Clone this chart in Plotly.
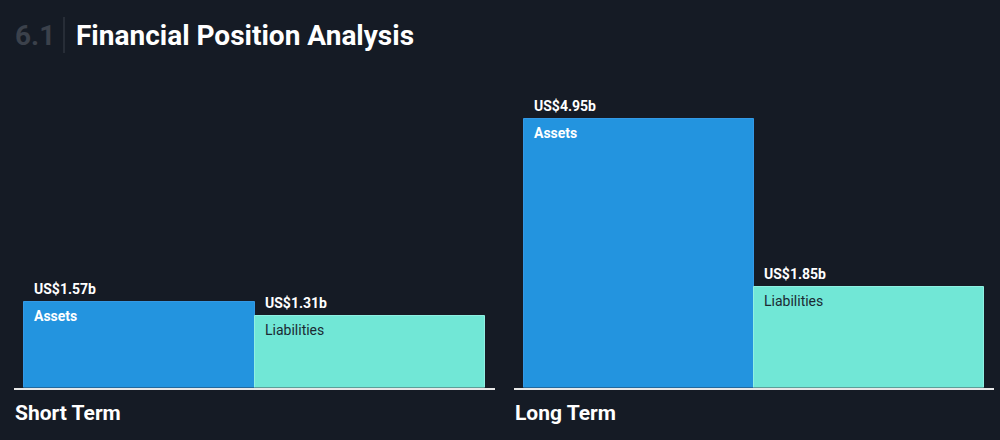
import plotly.graph_objects as go
from plotly.subplots import make_subplots

# data
categories = ["Assets", "Liabilities"]
short_term = [1.57, 1.31]
long_term = [4.95, 1.85]
short_labels = ["US$1.57b", "US$1.31b"]
long_labels = ["US$4.95b", "US$1.85b"]
panel_titles = ["Short Term", "Long Term"]

BG = "#151b25"
BAR_COLORS = ["#2394df", "#71e7d6"]
EDGE_COLORS = ["#3399e6", "#8ff0e2"]
INNER_TEXT = ["#ffffff", "#1b2a33"]
FONT = "Roboto"

fig = make_subplots(rows=1, cols=2)

panels = [(short_term, short_labels), (long_term, long_labels)]
for col, (vals, labels) in enumerate(panels, start=1):
    _ = fig.add_trace(
        go.Bar(
            x=categories,
            y=vals,
            marker=dict(color=BAR_COLORS, line=dict(color=EDGE_COLORS, width=1)),
            hoverinfo="skip",
            showlegend=False,
        ),
        row=1,
        col=col,
    )
    xref = "x" if col == 1 else "x2"
    yref = "y" if col == 1 else "y2"
    for i, (v, lab) in enumerate(zip(vals, labels)):
        # value above the bar
        fig.add_annotation(
            x=i, y=v, xref=xref, yref=yref, text="<b>" + lab + "</b>",
            showarrow=False, xanchor="left", yanchor="bottom",
            xshift=-107, yshift=3,
            font=dict(family=FONT, size=14, color="#ffffff"),
        )
        # category name inside the bar
        name = "<b>" + categories[i] + "</b>" if i == 0 else categories[i]
        fig.add_annotation(
            x=i, y=v, xref=xref, yref=yref, text=name,
            showarrow=False, xanchor="left", yanchor="top",
            xshift=-107, yshift=-4,
            font=dict(family=FONT, size=14, color=INNER_TEXT[i]),
        )

# panel titles under the baseline
for x0, t in zip([0.013, 0.513], panel_titles):
    fig.add_annotation(
        x=x0, y=(440 - 413) / 440, xref="paper", yref="paper",
        text="<b>" + t + "</b>", showarrow=False,
        xanchor="left", yanchor="middle",
        font=dict(family=FONT, size=21, color="#ffffff"),
    )

# header
fig.add_annotation(
    x=0.013, y=(440 - 35) / 440, xref="paper", yref="paper",
    text="<b>6.1</b>", showarrow=False, xanchor="left", yanchor="middle",
    font=dict(family=FONT, size=28, color="#3b414b"),
)
fig.add_annotation(
    x=0.074, y=(440 - 35) / 440, xref="paper", yref="paper",
    text="<b>Financial Position Analysis</b>", showarrow=False,
    xanchor="left", yanchor="middle",
    font=dict(family=FONT, size=28, color="#ffffff"),
)
fig.add_shape(
    type="line", xref="paper", yref="paper",
    x0=0.064, x1=0.064, y0=(440 - 17) / 440, y1=(440 - 53) / 440,
    line=dict(color="#3a404a", width=1),
)

base = (440 - 387.5) / 440

_ = fig.update_xaxes(
    showticklabels=False, showgrid=False, zeroline=False,
    showline=True, linecolor="#e8e8e8", linewidth=2,
    range=[-0.543, 1.543],
)
_ = fig.update_xaxes(domain=[0.014, 0.495], row=1, col=1)
_ = fig.update_xaxes(domain=[0.514, 0.994], row=1, col=2)
_ = fig.update_yaxes(visible=False, range=[0, 387.5 / 54.3], domain=[base, 1])

_ = fig.update_layout(
    width=1000, height=440,
    margin=dict(l=0, r=0, t=0, b=0),
    paper_bgcolor=BG, plot_bgcolor=BG,
    bargap=0,
    font=dict(family=FONT),
)

fig.write_html(
    "out.html",
    config={"displayModeBar": False},
    post_script="document.body.style.margin='0';"
    "document.body.style.background='" + BG + "';",
)
